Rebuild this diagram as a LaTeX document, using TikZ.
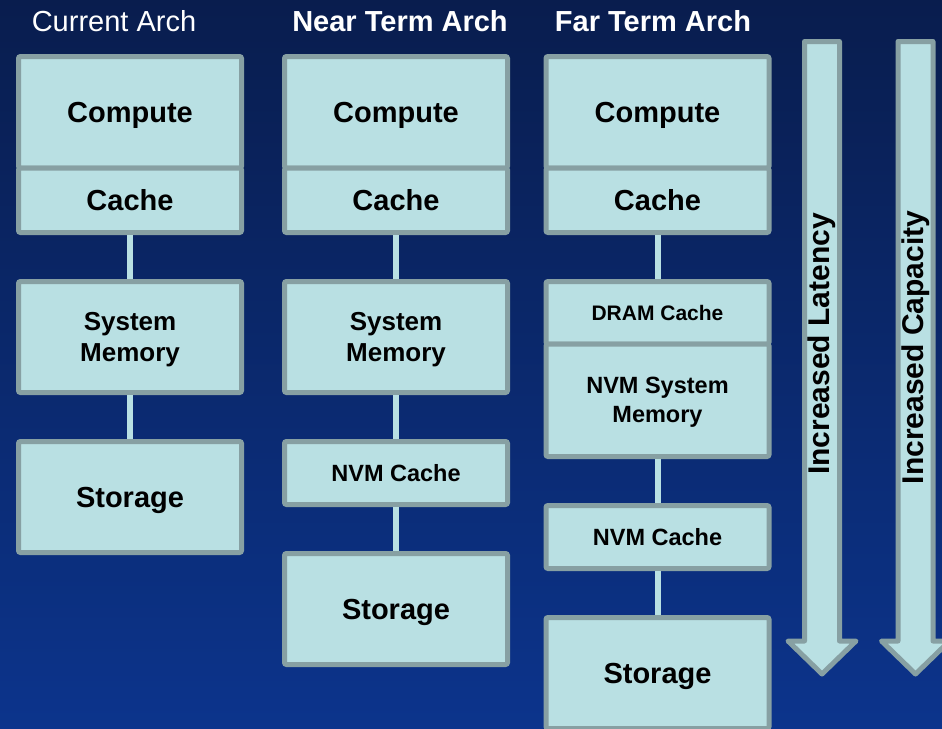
\documentclass[tikz,border=0pt]{standalone}
\usepackage{fontspec}
\setmainfont{Liberation Sans}
\usetikzlibrary{positioning}

\definecolor{bgtop}{RGB}{9,29,78}
\definecolor{bgbottom}{RGB}{12,52,140}
\definecolor{blkfill}{RGB}{185,224,227}
\definecolor{blkline}{RGB}{135,160,163}

\begin{document}
\begin{tikzpicture}[x=1pt, y=-1pt,
    blk/.style={draw=blkline, fill=blkfill, line width=5pt, rounded corners=2pt, outer sep=0pt, inner sep=0pt, minimum width=223pt, text depth=0pt, align=center, font=\bfseries\fontsize{29}{33}\selectfont},
    big/.style={blk, minimum height=111pt},
    small/.style={blk, minimum height=63pt, font=\bfseries\fontsize{23.5}{29}\selectfont},
    link/.style={draw=blkfill, line width=6pt, shorten <=2.5pt, shorten >=2.5pt},
    title/.style={text=white, font=\fontsize{29}{33}\selectfont},
    arrowbox/.style={draw=blkline, fill=blkfill, line width=5pt, line join=round},
    arrowtext/.style={rotate=90, font=\bfseries\fontsize{30}{33}\selectfont}]

    \shade[top color=bgtop, bottom color=bgbottom] (0,0) rectangle (942,728);
    \useasboundingbox (0,0) rectangle (942,728);

    \node[title] (t1) at (114,21) {Current Arch};
    \node[title, font=\bfseries\fontsize{29}{33}\selectfont] (t2) at (400,21) {Near Term Arch};
    \node[title, font=\bfseries\fontsize{29}{33}\selectfont] (t3) at (653,21) {Far Term Arch};

    \foreach \x/\i in {130/1, 396/2, 657.5/3} {
        \node[blk, minimum height=111.5pt] (comp\i) at (\x,112.25) {Compute};
        \node[blk, minimum height=64.5pt, below=0pt of comp\i] (cache\i) {Cache};
    }

    % current
    \node[big, below=49pt of cache1, font=\bfseries\fontsize{26}{31}\selectfont] (mem1) {System\\Memory};
    \node[big, below=49pt of mem1] (stor1) {Storage};

    % near term
    \node[big, below=49pt of cache2, font=\bfseries\fontsize{26}{31}\selectfont] (mem2) {System\\Memory};
    \node[small, below=49pt of mem2] (nvm2) {NVM Cache};
    \node[big, below=49pt of nvm2] (stor2) {Storage};

    % far term
    \node[small, minimum height=62.5pt, below=49pt of cache3, font=\bfseries\fontsize{21}{25}\selectfont] (dram3) {DRAM Cache};
    \node[blk, minimum height=112.5pt, below=0pt of dram3, font=\bfseries\fontsize{23.5}{29}\selectfont] (mem3) {NVM System\\Memory};
    \node[small, below=49pt of mem3] (nvm3) {NVM Cache};
    \node[big, below=49pt of nvm3] (stor3) {Storage};

    \draw[link] (cache1) -- (mem1);
    \draw[link] (mem1) -- (stor1);
    \draw[link] (cache2) -- (mem2);
    \draw[link] (mem2) -- (nvm2);
    \draw[link] (nvm2) -- (stor2);
    \draw[link] (cache3) -- (dram3);
    \draw[link] (mem3) -- (nvm3);
    \draw[link] (nvm3) -- (stor3);

    \foreach \ax/\lbl/\nm/\ty in {822/Increased Latency/lat/344, 915.5/Increased Capacity/cap/347.5} {
        \draw[arrowbox] ({\ax-17.5},41.5) -- ({\ax+17.5},41.5) -- ({\ax+17.5},641) -- ({\ax+34},641)
            -- (\ax,674) -- ({\ax-34},641) -- ({\ax-17.5},641) -- cycle;
        \node[arrowtext] (\nm) at (\ax,\ty) {\lbl};
    }

\end{tikzpicture}
\end{document}
